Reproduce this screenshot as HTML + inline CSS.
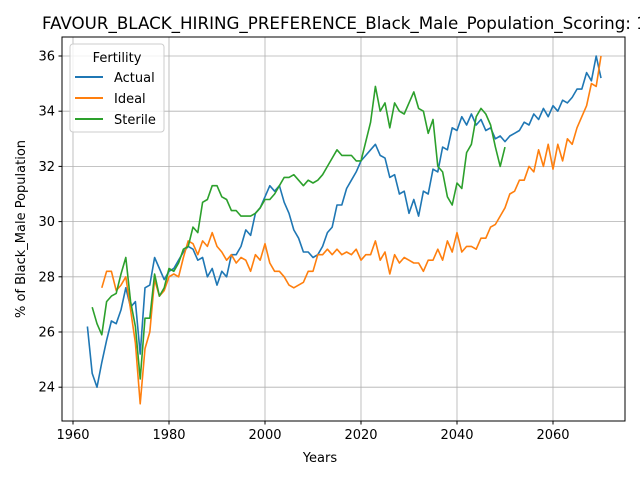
<!DOCTYPE html>
<html><head><meta charset="utf-8"><style>
body{margin:0;background:#fff;}
svg{display:block;font-family:"DejaVu Sans","Liberation Sans",sans-serif;}
</style></head><body>
<svg id="chart" width="640" height="480" xmlns="http://www.w3.org/2000/svg">
<text x="42" y="29" font-size="16.7" fill="#000">FAVOUR_BLACK_HIRING_PREFERENCE_Black_Male_Population_Scoring: 1</text>
<g id="grid"></g>
<g id="series"></g>
<rect x="62" y="37" width="563" height="384" fill="none" stroke="#000" stroke-width="1"/>
<g id="ticks"></g>
<text x="320" y="462" font-size="13" text-anchor="middle">Years</text>
<text transform="translate(25,229) rotate(-90)" font-size="13" text-anchor="middle">% of Black_Male Population</text>
<g>
<rect x="70" y="44" width="94" height="88" rx="3" fill="#fff" fill-opacity="0.8" stroke="#ccc"/>
<text x="117" y="62" font-size="13" text-anchor="middle">Fertility</text>
<line x1="75" x2="103" y1="77" y2="77" stroke="#1f77b4" stroke-width="2"/>
<text x="114" y="82" font-size="13">Actual</text>
<line x1="75" x2="103" y1="98" y2="98" stroke="#ff7f0e" stroke-width="2"/>
<text x="114" y="103" font-size="13">Ideal</text>
<line x1="75" x2="103" y1="119" y2="119" stroke="#2ca02c" stroke-width="2"/>
<text x="114" y="124" font-size="13">Sterile</text>
</g>
</svg>
<script>
const xTicks=[1960,1980,2000,2020,2040,2060];
const yTicks=[24,26,28,30,32,34,36];
const actualStart=1963;
const actual=[26.2,24.5,24.0,24.9,25.7,26.4,26.3,26.8,27.6,26.9,27.1,25.2,27.6,27.7,28.7,28.3,27.9,28.2,28.3,28.6,28.9,29.1,29.0,28.6,28.7,28.0,28.3,27.7,28.2,28.0,28.8,28.8,29.1,29.7,29.5,30.3,30.5,30.9,31.3,31.1,31.3,30.7,30.3,29.7,29.4,28.9,28.9,28.7,28.8,29.1,29.6,29.8,30.6,30.6,31.2,31.5,31.8,32.2,32.4,32.6,32.8,32.4,32.3,31.6,31.7,31.0,31.1,30.3,30.8,30.2,31.1,31.0,31.9,31.8,32.7,32.6,33.4,33.3,33.8,33.5,33.9,33.5,33.7,33.3,33.4,33.0,33.1,32.9,33.1,33.2,33.3,33.6,33.5,33.9,33.7,34.1,33.8,34.2,34.0,34.4,34.3,34.5,34.8,34.8,35.4,35.1,36.0,35.2];
const idealStart=1966;
const ideal=[27.6,28.2,28.2,27.5,27.7,28.0,26.8,25.6,23.4,25.4,26.0,27.9,27.3,27.5,28.0,28.1,28.0,28.7,29.3,29.2,28.8,29.3,29.1,29.6,29.1,28.9,28.6,28.8,28.5,28.7,28.6,28.2,28.8,28.6,29.2,28.5,28.2,28.2,28.0,27.7,27.6,27.7,27.8,28.2,28.2,28.8,28.8,29.0,28.8,29.0,28.8,28.9,28.8,29.0,28.6,28.8,28.8,29.3,28.6,28.9,28.1,28.8,28.5,28.7,28.6,28.5,28.5,28.2,28.6,28.6,29.0,28.6,29.3,28.9,29.6,28.9,29.1,29.1,29.0,29.4,29.4,29.8,29.9,30.2,30.5,31.0,31.1,31.5,31.5,32.0,31.8,32.6,32.0,32.8,31.9,32.8,32.2,33.0,32.8,33.4,33.8,34.2,35.0,34.9,36.0];
const sterileStart=1964;
const sterile=[26.9,26.3,25.9,27.1,27.3,27.4,28.1,28.7,27.1,26.2,24.3,26.5,26.5,28.1,27.3,27.6,28.3,28.2,28.5,29.0,29.1,29.8,29.6,30.7,30.8,31.3,31.3,30.9,30.8,30.4,30.4,30.2,30.2,30.2,30.3,30.5,30.8,30.8,31.0,31.3,31.6,31.6,31.7,31.5,31.3,31.5,31.4,31.5,31.7,32.0,32.3,32.6,32.4,32.4,32.4,32.2,32.2,32.9,33.6,34.9,34.0,34.3,33.4,34.3,34.0,33.9,34.3,34.7,34.1,34.0,33.2,33.7,32.0,31.8,30.9,30.6,31.4,31.2,32.5,32.8,33.8,34.1,33.9,33.5,32.7,32.0,32.7];
const NS='http://www.w3.org/2000/svg';
function xs(v){return 73+(v-1960)*4.8;}
function ys(v){return 56+(36-v)*27.6;}
const grid=document.getElementById('grid'),ticks=document.getElementById('ticks'),ser=document.getElementById('series');
function mk(tag,attrs,parent){const e=document.createElementNS(NS,tag);for(const k in attrs)e.setAttribute(k,attrs[k]);parent.appendChild(e);return e;}
xTicks.forEach(t=>{const x=xs(t);
const g=mk('line',{x1:x,x2:x,y1:37,y2:421,stroke:'#b0b0b0','stroke-width':0.8},grid);


mk('line',{x1:x,x2:x,y1:421,y2:424.5,stroke:'#000'},ticks);
const l=mk('text',{x:x,y:439,'font-size':13,'text-anchor':'middle'},ticks);l.textContent=t;

});
yTicks.forEach(t=>{const y=ys(t);
const g=mk('line',{x1:62,x2:625,y1:y,y2:y,stroke:'#b0b0b0','stroke-width':0.8},grid);


mk('line',{x1:58.5,x2:62,y1:y,y2:y,stroke:'#000'},ticks);
const l=mk('text',{x:55,y:y+4.5,'font-size':13,'text-anchor':'end'},ticks);l.textContent=t;

});
function line(vals,start,color,name){const pts=vals.map((v,i)=>xs(start+i).toFixed(1)+','+ys(v).toFixed(1)).join(' ');
const p=mk('polyline',{points:pts,fill:'none',stroke:color,'stroke-width':1.6,'stroke-linejoin':'round'},ser);

}
line(actual,actualStart,'#1f77b4','actual-line');
line(ideal,idealStart,'#ff7f0e','ideal-line');
line(sterile,sterileStart,'#2ca02c','sterile-line');
</script>
</body></html>
